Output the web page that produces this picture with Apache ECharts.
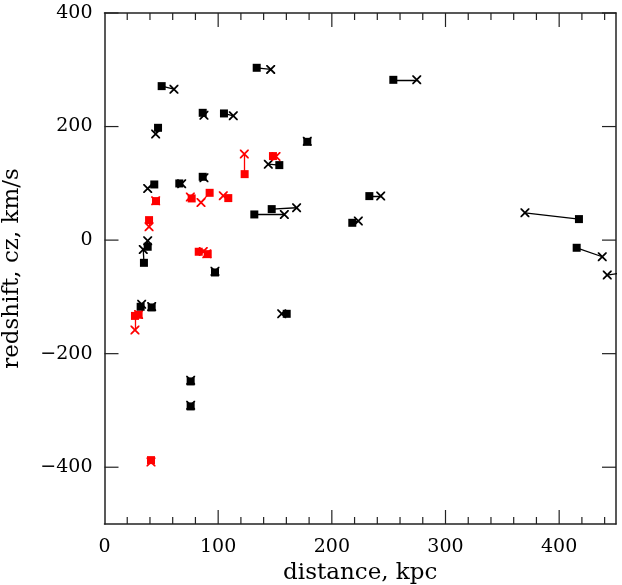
<!DOCTYPE html>
<html><head><meta charset="utf-8">
<script src="https://cdn.jsdelivr.net/npm/echarts@6/dist/echarts.min.js"></script>
<style>html,body{margin:0;padding:0;background:#fff}#c{width:622px;height:585px}</style>
</head><body><div id="c"></div>
<script>
// Black objects: square = one distance/redshift estimate, cross = another
const blackSquares = [[133.9,303.5],[50.3,271.2],[86.4,224.2],[105.1,223.1],[47.1,197.8],[153.8,132.1],[43.8,98],[65.8,99.8],[86.4,111.5],[131.8,45.2],[147.1,54.6],[38,-11.7],[34.7,-40],[31.8,-117.4],[41.5,-118.6],[97.2,-57],[160.3,-129.8],[75.8,-248.9],[75.8,-292.9],[254.1,282.3],[178.4,173.1],[233,77.5],[218,30.5],[417.4,37],[415.4,-13.5],[465,-55]];
const blackCrosses = [[146.2,300.7],[61.1,265.9],[87.5,220],[113.3,219],[45,186.7],[144.1,133.8],[38,91],[67.9,99.2],[87.5,110],[158.2,45.2],[169,57],[38,-1.2],[34.1,-16.4],[32.7,-113],[41.5,-117],[97.2,-55],[155.9,-129.8],[75.8,-247],[75.8,-291],[274.7,282.3],[178.4,174],[243,77.5],[223.3,33.5],[369.9,48.1],[437.9,-29.3],[442.3,-61.6]];
// Red objects
const redSquares = [[123.3,116.2],[148.2,148],[92.5,83.3],[108.9,74],[76.7,73.4],[45.3,68.7],[39.2,35.2],[82.9,-20.5],[90.8,-24.7],[26.8,-133.5],[30,-131.5],[40.9,-387.5]];
const redCrosses = [[123,151.5],[150.9,147.4],[84.9,66.4],[104.5,78],[75.5,76],[45,69.5],[39.2,23.4],[86.9,-20],[90,-24],[26.8,-158.5],[30,-131],[40.9,-391]];
// Tick values
const xMajorTicks = [0,100,200,300,400];
const xMinorTicks = [20,40,60,80,120,140,160,180,220,240,260,280,320,340,360,380,420,440];
const yMajorTicks = [-400,-200,0,200,400];
const X_MIN = 0, X_MAX = 450, Y_MIN = -500, Y_MAX = 400;

const crossPath = 'path://M0,0L1.4,0L10,8.6L10,10L8.6,10L0,1.4Z M8.6,0L10,0L10,1.4L1.4,10L0,10L0,8.6Z';
const FONT = 'DejaVu Serif';
const TICK_COLOR = '#222';

function pairs(a,b){ return a.map((p,i)=>({coords:[p,b[i]]})); }

const xTickData = xMajorTicks.filter(v=>v>X_MIN).map(v=>[v,1]).concat(xMinorTicks.map(v=>[v,0]));
const yTickData = yMajorTicks.map(v=>[v,1]);

function renderXTick(params, api){
  const x = api.coord([api.value(0), Y_MIN])[0];
  const yb = api.coord([X_MIN, Y_MIN])[1];
  const yt = api.coord([X_MIN, Y_MAX])[1];
  const len = api.value(1) ? 14 : 7;
  const st = {stroke:TICK_COLOR, lineWidth:1.2};
  return {type:'group', children:[
    {type:'line', shape:{x1:x,y1:yb,x2:x,y2:yb-len}, style:st},
    {type:'line', shape:{x1:x,y1:yt,x2:x,y2:yt+len}, style:st}
  ]};
}
function renderYTick(params, api){
  const y = api.coord([X_MIN, api.value(0)])[1];
  const xl = api.coord([X_MIN, Y_MIN])[0];
  const xr = api.coord([X_MAX, Y_MIN])[0];
  const len = 14;
  const st = {stroke:TICK_COLOR, lineWidth:1.2};
  return {type:'group', children:[
    {type:'line', shape:{x1:xl,y1:y,x2:xl+len,y2:y}, style:st},
    {type:'line', shape:{x1:xr,y1:y,x2:xr-len,y2:y}, style:st}
  ]};
}

const chart = echarts.init(document.getElementById('c'), null, {renderer:'canvas'});
const axisLine = {show:true, onZero:false, lineStyle:{color:TICK_COLOR, width:1.5}};
chart.setOption({
  animation:false,
  grid:{left:104.5, right:6, top:13, bottom:61, containLabel:false, outerBoundsMode:'none'},
  xAxis:[{
    type:'value', min:X_MIN, max:X_MAX, interval:100, position:'bottom',
    name:'distance, kpc', nameLocation:'middle', nameGap:34,
    nameTextStyle:{fontFamily:FONT, fontSize:23, color:'#000'},
    axisLine, axisTick:{show:false},
    axisLabel:{fontFamily:FONT, fontSize:19, color:'#000', margin:14, showMaxLabel:false,
      formatter:v=>xMajorTicks.includes(v)?String(v):''},
    splitLine:{show:false}
  },{
    type:'value', min:X_MIN, max:X_MAX, interval:100, position:'top',
    axisLine, axisTick:{show:false}, axisLabel:{show:false}, splitLine:{show:false}
  }],
  yAxis:[{
    type:'value', min:Y_MIN, max:Y_MAX, interval:100, position:'left',
    name:'redshift, cz, km/s', nameLocation:'middle', nameGap:81, nameRotate:90,
    nameTextStyle:{fontFamily:FONT, fontSize:23, color:'#000'},
    axisLine, axisTick:{show:false},
    axisLabel:{fontFamily:FONT, fontSize:19, color:'#000', margin:12,
      formatter:v=>yMajorTicks.includes(v)?(v<0?'\u2212'+(-v):String(v)):''},
    splitLine:{show:false}
  },{
    type:'value', min:Y_MIN, max:Y_MAX, interval:100, position:'right',
    axisLine, axisTick:{show:false}, axisLabel:{show:false}, splitLine:{show:false}
  }],
  series:[
    {type:'custom', xAxisIndex:0, yAxisIndex:0, clip:false, z:5, silent:true,
      renderItem:renderXTick, data:xTickData},
    {type:'custom', xAxisIndex:0, yAxisIndex:0, clip:false, z:5, silent:true,
      renderItem:renderYTick, data:yTickData},
    {type:'lines', coordinateSystem:'cartesian2d', xAxisIndex:0, yAxisIndex:0, clip:true, z:1,
      lineStyle:{color:'#000', width:1.3, opacity:1}, data:pairs(blackSquares,blackCrosses)},
    {type:'lines', coordinateSystem:'cartesian2d', xAxisIndex:0, yAxisIndex:0, clip:true, z:1,
      lineStyle:{color:'#ff0000', width:1.3, opacity:1}, data:pairs(redSquares,redCrosses)},
    {type:'scatter', xAxisIndex:0, yAxisIndex:0, clip:true, z:2, symbol:crossPath, symbolSize:9,
      itemStyle:{color:'#000', opacity:1}, data:blackCrosses},
    {type:'scatter', xAxisIndex:0, yAxisIndex:0, clip:true, z:2, symbol:crossPath, symbolSize:9,
      itemStyle:{color:'#ff0000', opacity:1}, data:redCrosses},
    {type:'scatter', xAxisIndex:0, yAxisIndex:0, clip:true, z:3, symbol:'rect', symbolSize:8,
      itemStyle:{color:'#000', opacity:1}, data:blackSquares},
    {type:'scatter', xAxisIndex:0, yAxisIndex:0, clip:true, z:3, symbol:'rect', symbolSize:8,
      itemStyle:{color:'#ff0000', opacity:1}, data:redSquares}
  ]
});
</script></body></html>
